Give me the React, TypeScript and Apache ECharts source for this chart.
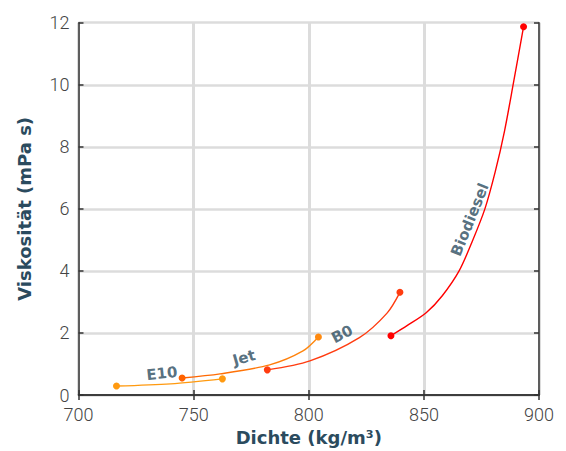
import React, { useEffect, useRef } from "react";
import * as echarts from "echarts";

const xTitle = "Dichte (kg/m³)";
const yTitle = "Viskosität (mPa s)";

const e10X = [716.5, 740, 762.5];
const e10Y = [0.29, 0.36, 0.52];
const jetX = [745, 761.5, 783, 797.5, 804.2];
const jetY = [0.55, 0.68, 0.97, 1.42, 1.87];
const b0X = [782, 800.5, 822, 834, 839.6];
const b0Y = [0.81, 1.1, 1.85, 2.64, 3.31];
const bioX = [835.7, 843, 851, 858, 865.3, 871, 876.5, 881, 885, 889, 893.3];
const bioY = [1.91, 2.25, 2.65, 3.2, 4.0, 4.95, 6.0, 7.2, 8.5, 10.1, 11.87];

const labelNames = ["E10", "Jet", "B0", "Biodiesel"];
const labelX = [736.2, 771.9, 814.5, 870.0];
const labelY = [0.69, 1.2, 1.96, 5.65];
const labelRot = [6, 16, 27, 68];

const titleColor = "#2b4b5e";

function lineData(xs: number[], ys: number[], c0: string, c1: string) {
  return xs.map((x, i) => {
    const end = i === 0 || i === xs.length - 1;
    return end
      ? { value: [x, ys[i]], symbol: "circle", itemStyle: { color: i === 0 ? c0 : c1 } }
      : { value: [x, ys[i]], symbol: "none" };
  });
}

function mkLine(name: string, xs: number[], ys: number[], lineColor: any, c0: string, c1: string) {
  return {
    name,
    type: "line",
    smooth: 0.3,
    symbolSize: 7,
    showSymbol: true,
    lineStyle: { color: lineColor, width: 1.4 },
    itemStyle: { color: c0 },
    data: lineData(xs, ys, c0, c1),
    z: 3,
  };
}

export default function App() {
  const ref = useRef<HTMLDivElement>(null);
  useEffect(() => {
    const chart = echarts.init(ref.current!, null, { renderer: "svg" });
    const tickFont = { fontFamily: "Roboto", fontWeight: 300, fontSize: 18, lineHeight: 18, color: "#444" };
    const titleFont = { fontFamily: "DejaVu Sans", fontWeight: "bold", fontSize: 18, color: titleColor };
    const axisLine = { show: true, lineStyle: { color: "#333", width: 1.5 } };
    const axisTick = { show: true, inside: true, length: 5, lineStyle: { color: "#333", width: 1.5 } };
    chart.setOption({
      animation: false,
      grid: { left: 78.5, right: 27, top: 22.7, bottom: 51.3, containLabel: false },
      xAxis: [
        {
          type: "value",
          min: 700,
          max: 900,
          interval: 50,
          name: xTitle,
          nameLocation: "middle",
          nameGap: 33,
          nameTextStyle: titleFont,
          axisLine,
          axisTick,
          axisLabel: { ...tickFont, margin: 10 },
          splitLine: { show: true, lineStyle: { color: "#dcdcdc", width: 3 } },
        },
        {
          type: "value",
          position: "top",
          min: 700,
          max: 900,
          interval: 50,
          axisLine,
          axisTick,
          axisLabel: { show: false },
          splitLine: { show: false },
        },
      ],
      yAxis: [
        {
          type: "value",
          min: 0,
          max: 12,
          interval: 2,
          name: yTitle,
          nameLocation: "middle",
          nameGap: 45,
          nameTextStyle: titleFont,
          axisLine,
          axisTick,
          axisLabel: { ...tickFont, margin: 9 },
          splitLine: { show: true, lineStyle: { color: "#dcdcdc", width: 2.5 } },
        },
        {
          type: "value",
          position: "right",
          min: 0,
          max: 12,
          interval: 2,
          axisLine,
          axisTick,
          axisLabel: { show: false },
          splitLine: { show: false },
        },
      ],
      series: [
        mkLine("E10", e10X, e10Y, "#ff9a10", "#ff9a10", "#ff9a10"),
        mkLine(
          "Jet",
          jetX,
          jetY,
          new echarts.graphic.LinearGradient(0, 0, 1, 0, [
            { offset: 0, color: "#ff6200" },
            { offset: 1, color: "#ff8a10" },
          ]),
          "#ff6200",
          "#ff8a10"
        ),
        mkLine("B0", b0X, b0Y, "#ff3c10", "#ff3c10", "#ff3c10"),
        mkLine("Biodiesel", bioX, bioY, "#ff0000", "#ff0000", "#ff0000"),
        {
          name: "labels",
          type: "scatter",
          symbolSize: 0,
          silent: true,
          z: 5,
          data: labelNames.map((n, i) => ({
            value: [labelX[i], labelY[i]],
            label: {
              show: true,
              formatter: n,
              position: "inside",
              rotate: labelRot[i],
              fontFamily: "DejaVu Sans",
              fontWeight: "bold",
              fontSize: 15,
              color: titleColor,
            },
          })),
        },
      ],
    });
    return () => chart.dispose();
  }, []);
  return (
    <div
      ref={ref}
      style={{ position: "fixed", left: 0, top: 0, width: 566, height: 451, background: "#fff" }}
    />
  );
}
